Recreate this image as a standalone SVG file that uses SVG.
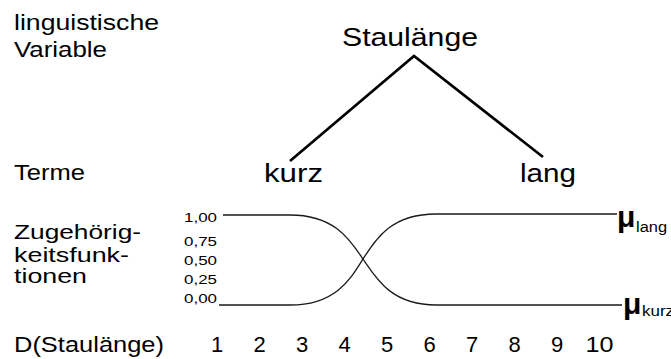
<svg xmlns="http://www.w3.org/2000/svg" width="671" height="359" viewBox="0 0 671 359">
<style>
text{font-family:"Liberation Sans",Arial,sans-serif;fill:#000}
.lbl{font-size:22px}
.lbl2{font-size:20px}
.node{font-size:25px}
.ax{font-size:13px}
.num{font-size:22px;text-anchor:middle}
.mu{font-size:30px;font-weight:bold}
.sub{font-size:14px}
.conn{stroke:#000;stroke-width:2.7;fill:none;stroke-linecap:butt}
.curve{stroke:#1a1a1a;stroke-width:1.3;fill:none}
</style>
<rect width="671" height="359" fill="#fff"/>
<g id="row-labels">
<text class="lbl" x="14" y="30" textLength="145" lengthAdjust="spacingAndGlyphs">linguistische</text>
<text class="lbl" x="14" y="57" textLength="93" lengthAdjust="spacingAndGlyphs">Variable</text>
<text class="lbl" x="14" y="180" textLength="71" lengthAdjust="spacingAndGlyphs">Terme</text>
<text class="lbl2" x="14" y="239" textLength="127" lengthAdjust="spacingAndGlyphs">Zugehörig-</text>
<text class="lbl2" x="14" y="261.5" textLength="115" lengthAdjust="spacingAndGlyphs">keitsfunk-</text>
<text class="lbl2" x="14" y="283" textLength="73" lengthAdjust="spacingAndGlyphs">tionen</text>
<text class="lbl" x="14" y="351.5" textLength="150" lengthAdjust="spacingAndGlyphs">D(Staulänge)</text>
</g>
<g id="node-staulaenge"><text class="node" x="342" y="46" textLength="136" lengthAdjust="spacingAndGlyphs">Staulänge</text></g>
<g id="node-kurz"><text class="node" x="264" y="182" textLength="59" lengthAdjust="spacingAndGlyphs">kurz</text></g>
<g id="node-lang"><text class="node" x="520" y="182" textLength="56" lengthAdjust="spacingAndGlyphs">lang</text></g>
<g id="connectors">
<polyline class="conn" points="290,161 414,56 543,157"/>
</g>
<g id="y-axis">
<text class="ax" x="184" y="221.7" textLength="33" lengthAdjust="spacingAndGlyphs">1,00</text>
<text class="ax" x="184" y="246" textLength="33" lengthAdjust="spacingAndGlyphs">0,75</text>
<text class="ax" x="184" y="265" textLength="33" lengthAdjust="spacingAndGlyphs">0,50</text>
<text class="ax" x="184" y="283.5" textLength="33" lengthAdjust="spacingAndGlyphs">0,25</text>
<text class="ax" x="184" y="303" textLength="33" lengthAdjust="spacingAndGlyphs">0,00</text>
</g>
<g id="curves">
<path id="mu-kurz-curve" class="curve" d="M223,215 H290 C335,215 350,240 363,259 C376,278 391,305 436,305 H622"/>
<path id="mu-lang-curve" class="curve" d="M219,305 H290 C335,305 350,280 363,259 C376,239 391,214 436,214 H617"/>
</g>
<g id="mu-lang"><text class="mu" x="617" y="227.3">μ</text><text class="sub" x="636" y="231.7" textLength="31" lengthAdjust="spacingAndGlyphs">lang</text></g>
<g id="mu-kurz"><text class="mu" x="623" y="314">μ</text><text class="sub" x="642" y="316" textLength="32" lengthAdjust="spacingAndGlyphs">kurz</text></g>
<g id="x-axis">
<text class="num" x="217" y="351.5">1</text>
<text class="num" x="259.5" y="351.5">2</text>
<text class="num" x="302" y="351.5">3</text>
<text class="num" x="344.5" y="351.5">4</text>
<text class="num" x="387" y="351.5">5</text>
<text class="num" x="429.5" y="351.5">6</text>
<text class="num" x="472" y="351.5">7</text>
<text class="num" x="514.5" y="351.5">8</text>
<text class="num" x="557" y="351.5">9</text>
<text class="num" x="599.5" y="351.5" textLength="28" lengthAdjust="spacingAndGlyphs">10</text>
</g>
</svg>
